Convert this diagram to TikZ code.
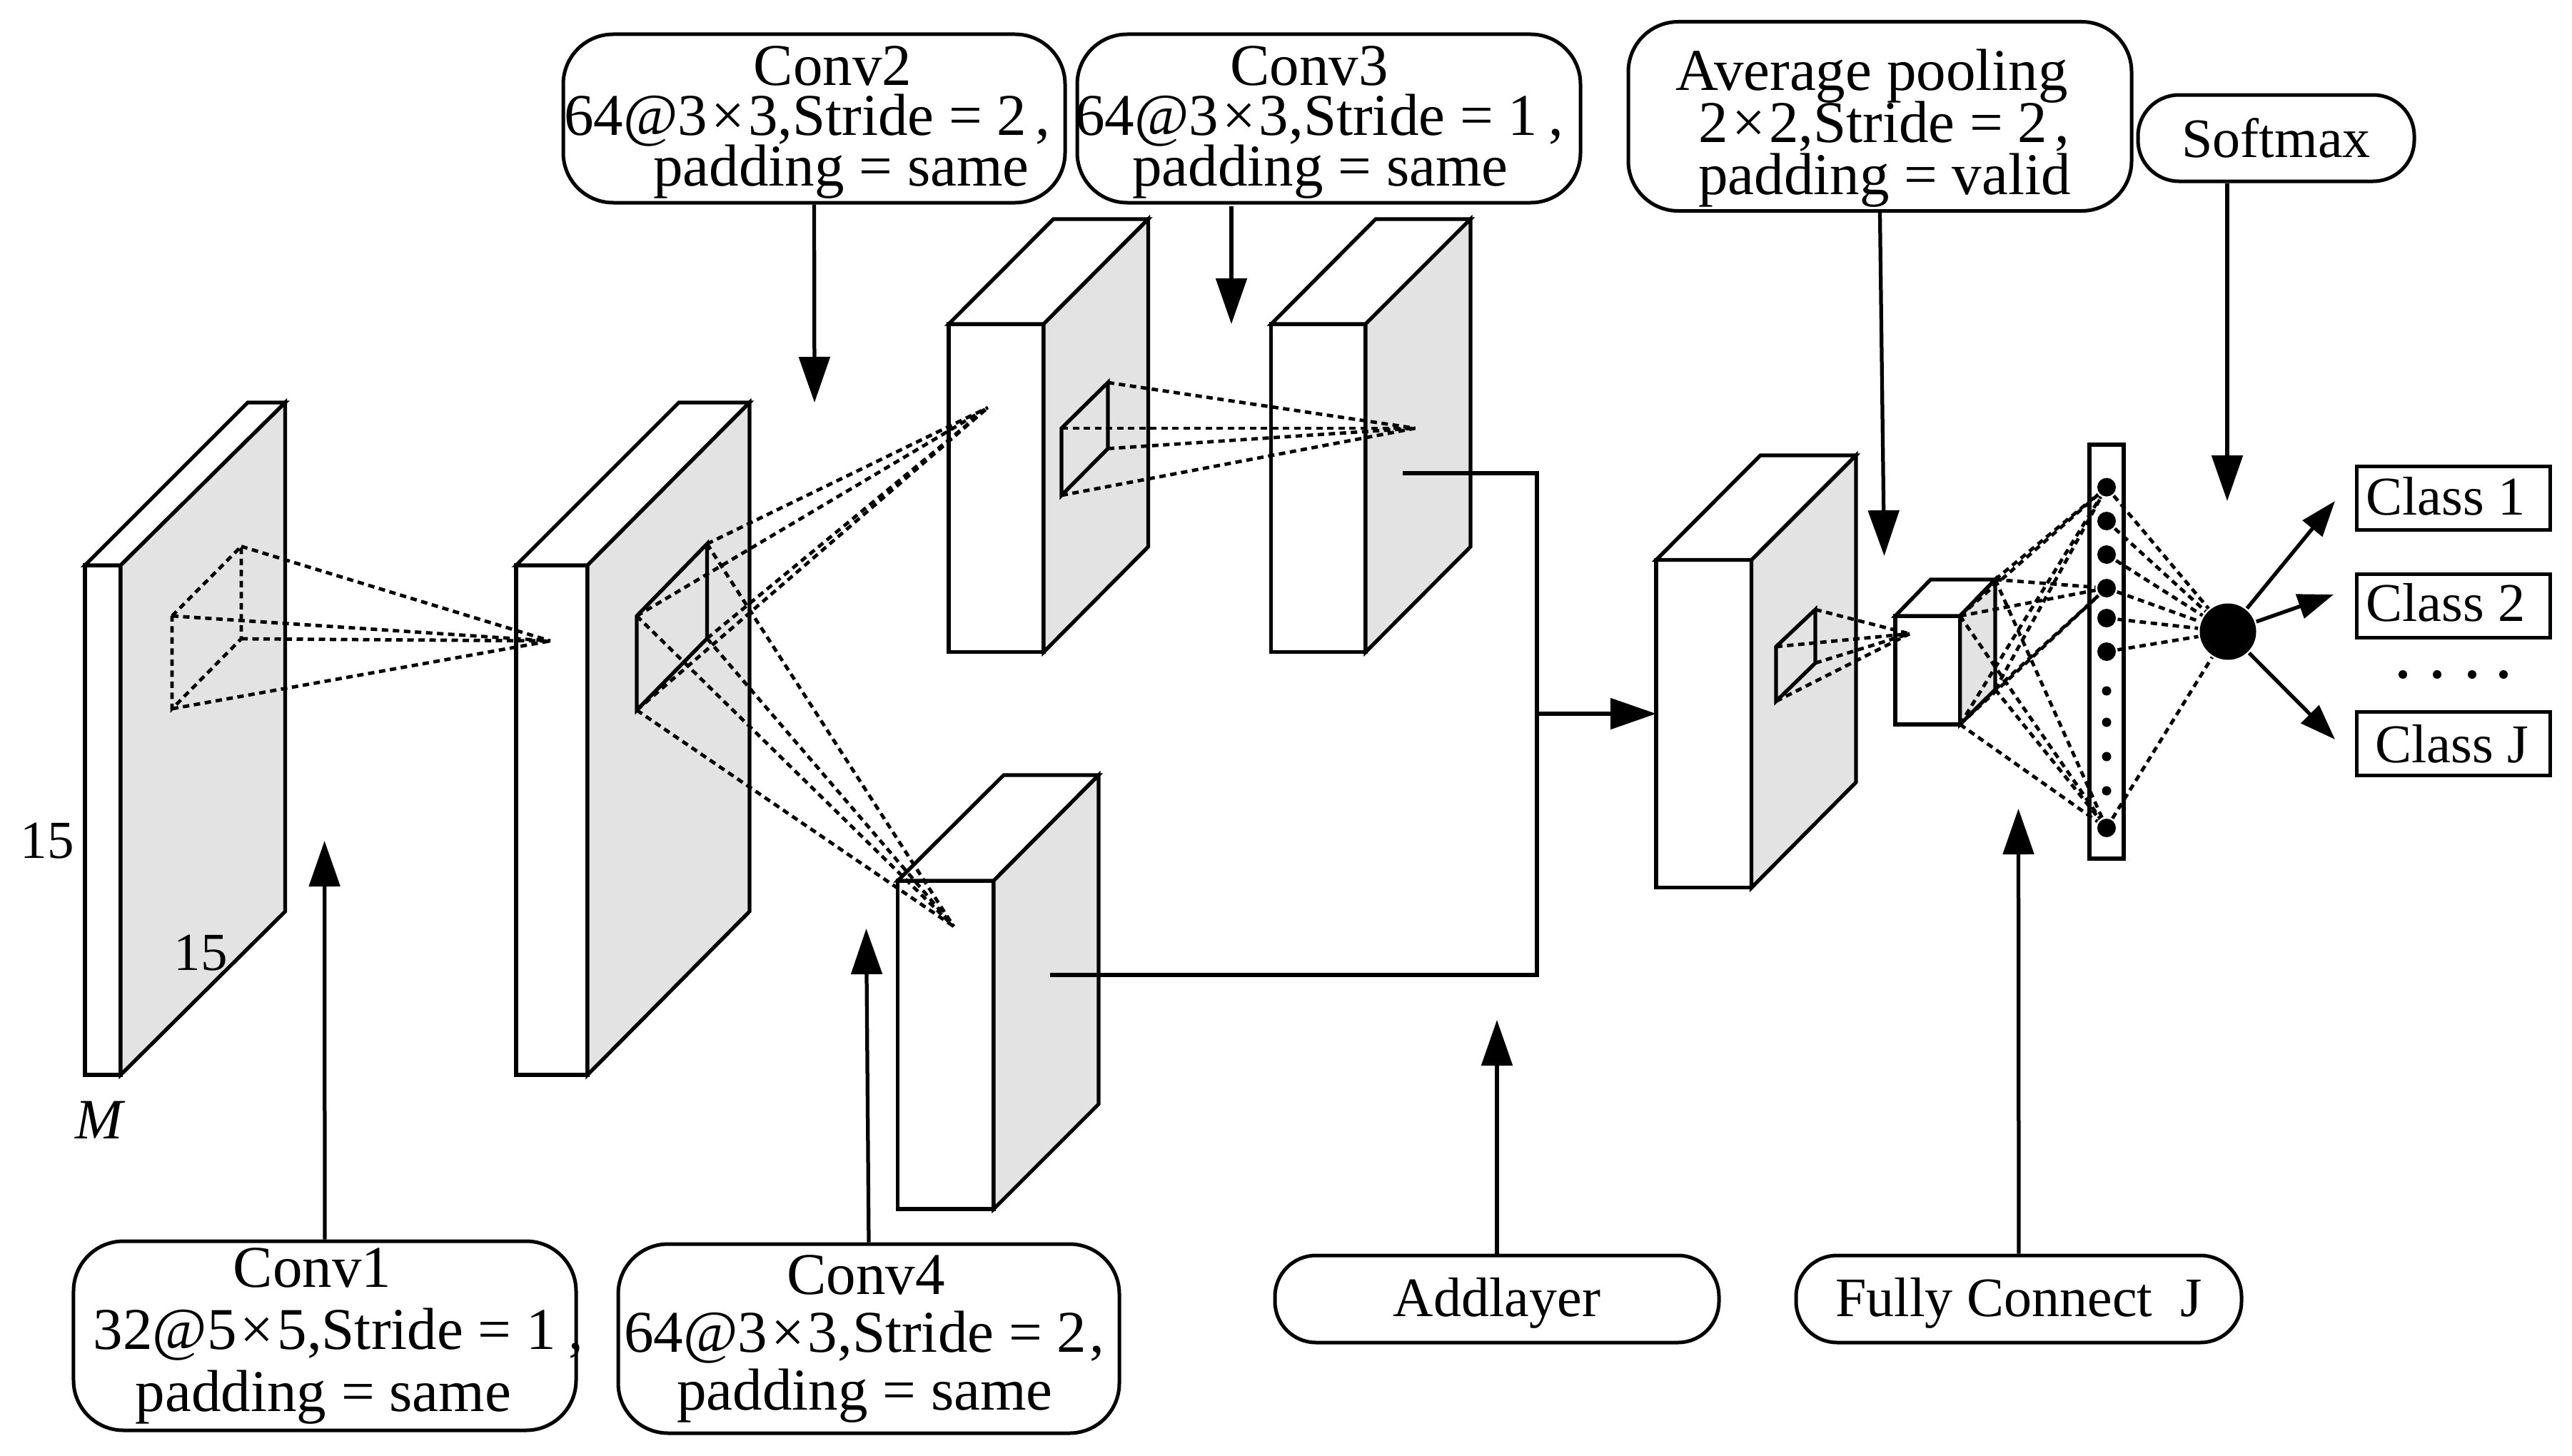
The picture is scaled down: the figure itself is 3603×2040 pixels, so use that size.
\documentclass[tikz,border=0pt]{standalone}
\usepackage{fontspec}
\setmainfont{Liberation Serif}
\usetikzlibrary{arrows.meta,positioning}
\definecolor{sidegray}{HTML}{E3E3E3}
\newcommand{\tagfont}[1]{\fontsize{16.6}{#1}\selectfont\lineskiplimit=-20pt}
\tikzstyle{tag} = [rectangle, draw, rounded corners=14pt, align=center, inner sep=0pt, line width=1pt, font=\tagfont{14.1}]
\tikzstyle{smalltag} = [tag, rounded corners=11.5pt, font=\fontsize{15.6}{18}\selectfont]
\tikzstyle{classbox} = [rectangle, draw, line width=1pt, inner sep=0pt, minimum width=54.3pt, minimum height=17.8pt, font=\fontsize{15.3}{18}\selectfont]
\tikzstyle{size} = [inner sep=0pt, font=\fontsize{15}{17}\selectfont]
\tikzstyle{dotline} = [line width=.95pt, dash pattern=on 1.8pt off 1.3pt]
\tikzstyle{smallarrow} = [-{Triangle[length=10pt,width=7pt]}]
\tikzstyle{neuron} = [circle, fill=black, inner sep=0pt]
\newcommand{\slab}[8]{%
  \draw[fill=white] (#1,#3) rectangle (#2,#4);
  \draw[fill=white] (#1,#3) -- (#5,#7) -- (#6,#7) -- (#2,#3) -- cycle;
  \draw[fill=sidegray] (#2,#3) -- (#6,#7) -- (#6,#8) -- (#2,#4) -- cycle;
}
\newcommand{\port}[7]{%
  \coordinate (#1a) at (#2,#4);
  \coordinate (#1b) at (#3,#5);
  \coordinate (#1c) at (#3,#6);
  \coordinate (#1d) at (#2,#7);
}
\newcommand{\shiftl}[2]{\kern#1pt#2\kern-#1pt}
\newcommand{\cross}{\kern1pt×\kern1pt}
\begin{document}
\begin{tikzpicture}[x=.2pt,y=-.2pt,line width=1.05pt,>={Triangle[length=12.8pt,width=8.6pt]}]
    \useasboundingbox (0,0) rectangle (3603,2040);

    \slab{119}{169}{792}{1506}{347}{399.5}{564}{1277}
    \slab{723}{823}{792}{1506}{951}{1050}{564}{1277}
    \slab{1329}{1462}{454}{913.6}{1475.6}{1608.5}{307}{766}
    \slab{1780.8}{1913}{454}{913.6}{1927}{2060}{307}{766}
    \slab{1257.5}{1392}{1234}{1694}{1406}{1539}{1086}{1547}
    \slab{2320}{2453.6}{784.6}{1243.7}{2466}{2600}{638}{1096}
    \slab{2655}{2745.7}{863}{1015}{2704.5}{2795}{812}{966}

    \node [tag, minimum width=140.8pt, minimum height=53pt, font=\tagfont{17.4}] (conv1) at (455,1871.5) {\shiftl{-3.5}{Conv1}\\\shiftl{3.8}{32@5\cross5,Stride = 1\hspace{3.5pt},}\\\shiftl{-.4}{padding = same}};
    \node [tag, minimum width=140.6pt, minimum height=47.2pt] (conv2) at (1140.5,166) {\rule{0pt}{13pt}\shiftl{5.2}{Conv2}\\\shiftl{-1.9}{64@3\cross3,Stride = 2\hspace{2.5pt},}\\\shiftl{7.6}{padding = same}};
    \node [tag, minimum width=141pt, minimum height=47.2pt] (conv3) at (1861.5,166) {\rule{0pt}{13pt}\shiftl{-5.5}{Conv3}\\\shiftl{-2.7}{64@3\cross3,Stride = 1\hspace{3pt},}\\\shiftl{-2.4}{padding = same}};
    \node [tag, minimum width=140.4pt, minimum height=53pt, font=\tagfont{16.2}] (conv4) at (1217,1875.5) {\shiftl{-.8}{Conv4}\\\shiftl{-1.3}{64@3\cross3,Stride = 2\hspace{.8pt},}\\\shiftl{-1.1}{padding = same}};
    \node [tag, minimum width=141pt, minimum height=53pt, font=\tagfont{14.6}] (avgpool) at (2633.5,163) {\rule{0pt}{18.2pt}\shiftl{-2.3}{Average pooling}\\\shiftl{1.2}{2\cross2,Stride = 2\hspace{2pt},}\\\shiftl{1.3}{padding = valid}};
    \node [smalltag, minimum width=77.4pt, minimum height=24.2pt] (softmax) at (3188.5,193.5) {Softmax};
    \node [smalltag, minimum width=124.4pt, minimum height=24.4pt] (addlayer) at (2097,1820) {\rule{0pt}{13.3pt}Addlayer};
    \node [smalltag, minimum width=124.8pt, minimum height=24.4pt] (fullconn) at (2828,1820) {\rule{0pt}{13.3pt}Fully Connect\ \ J};

    \node [classbox] (class1) at (3437,697.5) {\raisebox{.9pt}{\shiftl{-2.2}{Class 1}}};
    \node [classbox, below=11.4pt of class1] (class2) {\raisebox{2pt}{\shiftl{-2.2}{Class 2}}};
    \node [classbox] (classJ) at (3437,1042) {\raisebox{-1pt}{\shiftl{-.4}{Class J}}};
    \foreach \n/\x in {1/3366,2/3414,3/3463,4/3507}
        \node [neuron, minimum size=2.4pt] (more\n) at (\x,945) {};

    \node [size] (height) at (66,1178) {15};
    \node [size] (width) at (281,1335) {15};
    \node [size, font=\fontsize{16}{17}\selectfont] (depth) at (141,1569) {\textit{M}};

    % windows and the points they shrink to
    \port{win1}{241}{338}{863}{765.5}{895}{993}
    \port{win2}{892}{990.5}{863}{762}{894.5}{995}
    \port{win3}{1487}{1552}{600}{536}{628.5}{694}
    \port{win6}{2488}{2543}{906}{854}{929}{982.5}
    \coordinate (apex1) at (771,898);
    \coordinate (apex2) at (1384,571);
    \coordinate (apex3) at (1982.6,600);
    \coordinate (apex4) at (1336,1298);
    \coordinate (apex6) at (2675,888);

    \draw[dotline] (win1a) -- (win1b) -- (win1c) -- (win1d) -- cycle;
    \draw (win2a) -- (win2b) -- (win2c) -- (win2d) -- cycle;
    \draw (win3a) -- (win3b) -- (win3c) -- (win3d) -- cycle;
    \draw (win6a) -- (win6b) -- (win6c) -- (win6d) -- cycle;
    \foreach \c in {a,b,c,d} {
        \draw[dotline] (win1\c) -- (apex1);
        \draw[dotline] (win2\c) -- (apex2);
        \draw[dotline] (win2\c) -- (apex4);
        \draw[dotline] (win3\c) -- (apex3);
        \draw[dotline] (win6\c) -- (apex6);
    }

    \node [rectangle, draw, fill=white, inner sep=0pt, minimum width=9.6pt, minimum height=116pt] (fcbar) at (2951,913) {};
    \foreach \k/\y in {1/682.6,2/730,3/777,4/824,5/866,6/913,11/1160}
        \node [neuron, minimum size=5.2pt] (fc\k) at (2951,\y) {};
    \foreach \k/\y in {7/968,8/1012,9/1060,10/1108}
        \node [neuron, minimum size=2.6pt] (fc\k) at (2951,\y) {};
    \node [neuron, minimum size=15.8pt] (softdot) at (3121,885) {};

    \coordinate (facea) at (2745.7,863);
    \coordinate (faceb) at (2795,812);
    \coordinate (facec) at (2795,966);
    \coordinate (faced) at (2745.7,1015);
    \foreach \c in {a,b,c,d}
        \foreach \k in {1,4,11}
            \draw[dotline] (face\c) -- (fc\k);
    \foreach \k in {1,2,3,4,5,6,11}
        \draw[dotline] (fc\k) -- (softdot);

    \coordinate (tip1) at (454.6,1178);
    \coordinate (tip2) at (1141,564);
    \coordinate (tip3) at (1725,454);
    \coordinate (tip4) at (1213.5,1301);
    \coordinate (tipadd) at (2097,1429);
    \coordinate (tipavg) at (2639.5,779);
    \coordinate (tipfc) at (2827.5,1133);
    \coordinate (tipsoft) at (3120,702);

    \draw[->] (conv1.north) -- (tip1);
    \draw[->] (conv2.south) -- (tip2);
    \draw[->] (tip3 |- 0,289) -- (tip3);
    \draw[->] (conv4.north) -- (tip4);
    \draw[->] (addlayer.north) -- (tipadd);
    \draw[->] (avgpool.south) -- (tipavg);
    \draw[->] (fullconn.north) -- (tipfc);
    \draw[->] (tipsoft |- softmax.south) -- (tipsoft);

    \coordinate (out3) at (1965,663);
    \coordinate (out4) at (1471,1366);
    \coordinate (joinup) at (2153,663);
    \coordinate (joindown) at (2153,1366);
    \coordinate (joinmid) at (2153,1000);
    \coordinate (in6) at (2320,1000);
    \draw (out3) -- (joinup) -- (joindown) -- (out4);
    \draw[->] (joinmid) -- (in6);

    \coordinate (tipc1) at (3271,702);
    \coordinate (tipc2) at (3269,833);
    \coordinate (tipcJ) at (3271,1036);
    \draw[smallarrow] (softdot) -- (tipc1);
    \draw[smallarrow] (softdot) -- (tipc2);
    \draw[smallarrow] (softdot) -- (tipcJ);
\end{tikzpicture}
\end{document}
